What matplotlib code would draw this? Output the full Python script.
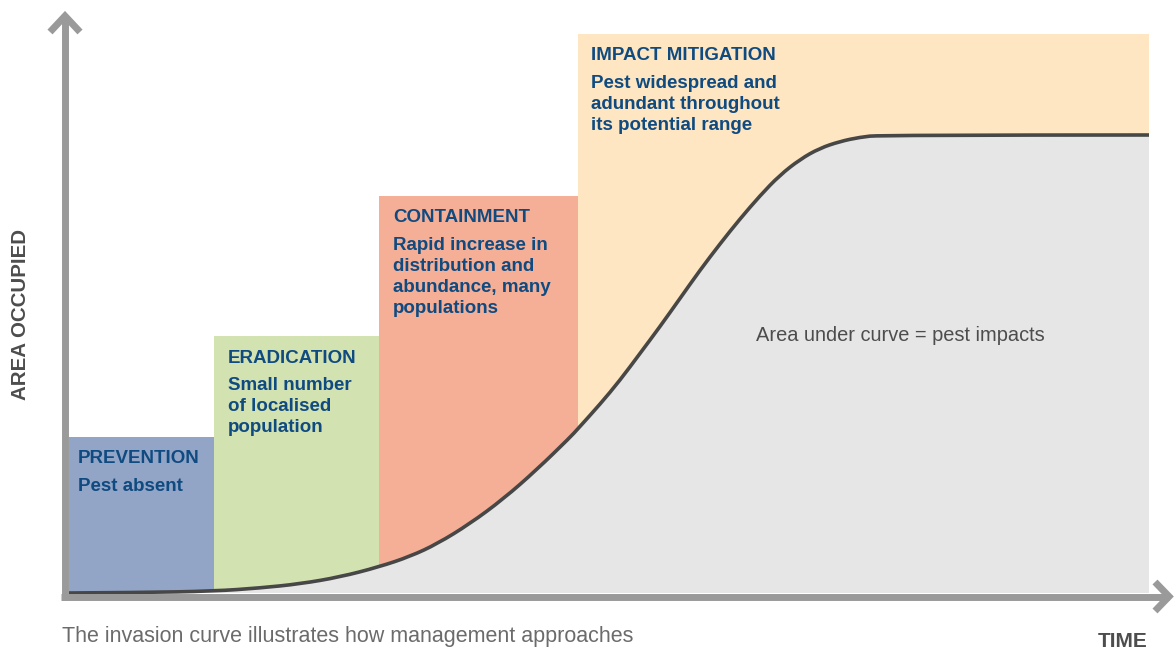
import matplotlib
matplotlib.use("Agg")
import matplotlib.pyplot as plt
from matplotlib.path import Path
from matplotlib.patches import PathPatch

# ---------------- data ----------------
phases = ["PREVENTION", "ERADICATION", "CONTAINMENT", "IMPACT MITIGATION"]
descriptions = [
    ["Pest absent"],
    ["Small number", "of localised", "population"],
    ["Rapid increase in", "distribution and", "abundance, many", "populations"],
    ["Pest widespread and", "adundant throughout", "its potential range"],
]
phase_start = [0.0, 13.4, 28.7, 47.1]
phase_end = [13.4, 28.7, 47.1, 100.0]
phase_height = [34.1, 56.1, 86.7, 122.1]
phase_colors = ["#93a5c6", "#d3e2b1", "#f4af96", "#fde6c1"]

# invasion curve (time %, area occupied %)
time = [0.0, 6.6, 13.4, 17.7, 21.4, 25.1, 28.7, 31.6, 34.1, 37.1, 40.2, 43.3,
        46.4, 47.1, 49.2, 51.0, 52.9, 54.7, 56.6, 58.4, 60.3, 62.1, 64.0,
        65.8, 67.7, 69.5, 71.4, 73.2, 75.1, 100.0]
area = [0.0, 0.1, 0.4, 1.1, 2.0, 3.5, 5.7, 8.0, 10.75, 15.1, 20.5, 26.9,
        34.0, 35.8, 41.3, 46.4, 52.4, 58.1, 64.4, 70.4, 76.3, 81.6, 86.8,
        91.2, 94.7, 97.1, 98.6, 99.5, 100.0, 100.0]

x_label = "TIME"
y_label = "AREA OCCUPIED"
curve_note = "Area under curve = pest impacts"
caption = "The invasion curve illustrates how management approaches"

# ---------------- layout helpers (pixel <-> data) ----------------
W, H = 1175, 650
X0, XS = 69.0, 10.8   # pixel x of time 0, pixels per time unit
Y0, YS = 593.0, 4.58  # pixel y of area 0, pixels per area unit


def tx(px):
    return (px - X0) / XS


def ay(py):
    return (Y0 - py) / YS


fig = plt.figure(figsize=(W / 100, H / 100), dpi=100)
ax = fig.add_axes([0, 0, 1, 1])
ax.set_xlim(tx(0), tx(W))
ax.set_ylim(ay(H), ay(0))
ax.axis("off")

TEXT_BLUE = "#0f4a80"
GREY_TXT = "#4d4d4d"
AXIS_GREY = "#9a9a9a"
FONT = ["Liberation Sans", "DejaVu Sans"]

# phase rectangles
widths = [e - s for s, e in zip(phase_start, phase_end)]
ax.bar(phase_start, phase_height, width=widths, align="edge",
       color=phase_colors, linewidth=0, zorder=1)

# smooth path through the read points (quadratic Bezier via midpoints)
pts = list(zip(time, area))
verts = [pts[0]]
codes = [Path.MOVETO]
for i in range(1, len(pts) - 2):
    mid = ((pts[i][0] + pts[i + 1][0]) / 2, (pts[i][1] + pts[i + 1][1]) / 2)
    verts += [pts[i], mid]
    codes += [Path.CURVE3, Path.CURVE3]
verts += [pts[-2], pts[-1]]
codes += [Path.CURVE3, Path.CURVE3]
curve_path = Path(verts, codes)

fill_verts = verts + [(time[-1], 0.0), (time[0], 0.0), verts[0]]
fill_codes = codes + [Path.LINETO, Path.LINETO, Path.CLOSEPOLY]
ax.add_patch(PathPatch(Path(fill_verts, fill_codes), facecolor="#e6e6e6",
                       edgecolor="none", zorder=2))
ax.add_patch(PathPatch(curve_path, facecolor="none", edgecolor="#474747",
                       lw=2.6, capstyle="butt", zorder=3))

# phase texts
text_pad_px = [9, 14, 14, 13]
for s, h, name, lines, pad in zip(phase_start, phase_height, phases,
                                  descriptions, text_pad_px):
    x = s + pad / XS
    base_py = (Y0 - h * YS) + 26.5
    ax.text(x, ay(base_py), name, color=TEXT_BLUE, fontsize=13.5,
            family=FONT, fontweight="bold", va="baseline", ha="left", zorder=5)
    for i, ln in enumerate(lines):
        ax.text(x, ay(base_py + 27.5 + 21.0 * i), ln, color=TEXT_BLUE,
                fontsize=13.5, family=FONT, fontweight="bold",
                va="baseline", ha="left", zorder=5)

ax.text(tx(756), ay(341), curve_note, color=GREY_TXT, fontsize=14.4,
        family=FONT, va="baseline", ha="left", zorder=5)

# axes with arrows
lw_ax = 5.0
ax.plot([tx(65), tx(65)], [ay(600), ay(16)], color=AXIS_GREY, lw=lw_ax,
        solid_capstyle="butt", zorder=6)
ax.plot([tx(50), tx(65), tx(80)], [ay(32), ay(16), ay(32)], color=AXIS_GREY,
        lw=lw_ax, solid_capstyle="butt", solid_joinstyle="miter", zorder=6)
ax.plot([tx(61), tx(1169)], [ay(596.5), ay(596.5)], color=AXIS_GREY, lw=lw_ax,
        solid_capstyle="butt", zorder=6)
ax.plot([tx(1155), tx(1169), tx(1155)], [ay(582), ay(596.5), ay(611)],
        color=AXIS_GREY, lw=lw_ax, solid_capstyle="butt",
        solid_joinstyle="miter", zorder=6)

# axis labels
ax.text(tx(20), ay(315), y_label, rotation=90, color=GREY_TXT, fontsize=14.8,
        family=FONT, fontweight="bold", ha="center", va="center", zorder=6)
ax.text(tx(1147), ay(647), x_label, color=GREY_TXT, fontsize=15,
        family=FONT, fontweight="bold", ha="right", va="baseline", zorder=6)

# caption
ax.text(tx(62), ay(626), caption, color="#6b6b6b", fontsize=15.5,
        family=FONT, ha="left", va="top", zorder=6)

fig.savefig("out.png", dpi=100)
